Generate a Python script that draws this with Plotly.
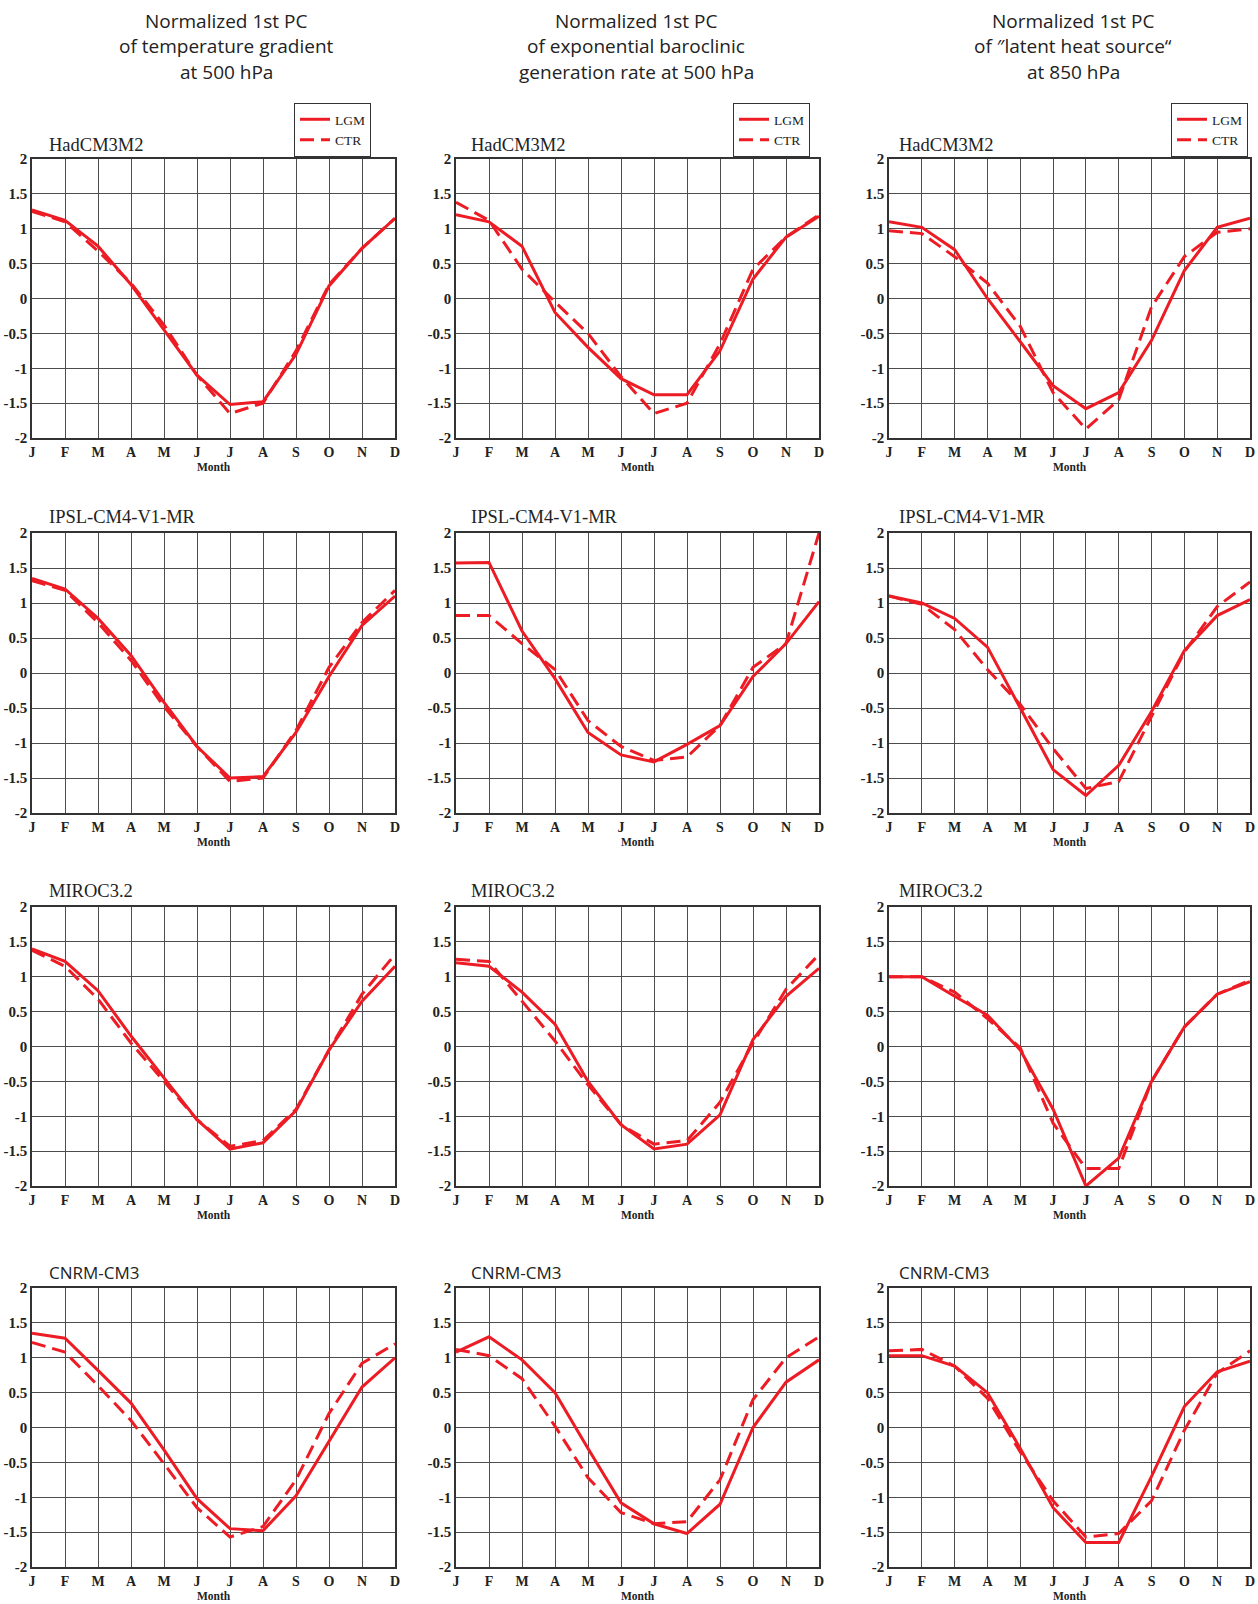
import plotly.graph_objects as go

# ---------------- data ----------------
MONTHS = ["J", "F", "M", "A", "M", "J", "J", "A", "S", "O", "N", "D"]
MONTH_POS = list(range(1, 13))
Y_TICKS = [2, 1.5, 1, 0.5, 0, -0.5, -1, -1.5, -2]
Y_LABELS = ["2", "1.5", "1", "0.5", "0", "-0.5", "-1", "-1.5", "-2"]
X_TITLE = "Month"

COLUMN_TITLES = [
    ["Normalized 1st PC", "of temperature gradient", "at 500 hPa"],
    ["Normalized 1st PC", "of exponential baroclinic", "generation rate at 500 hPa"],
    ["Normalized 1st PC", "of \u2033latent heat source\u201c", "at 850 hPa"],
]
MODELS = ["HadCM3M2", "IPSL-CM4-V1-MR", "MIROC3.2", "CNRM-CM3"]
SERIES_NAMES = ["LGM", "CTR"]

# temperature gradient at 500 hPa
TG_HAD_LGM = [1.27, 1.12, 0.75, 0.20, -0.45, -1.10, -1.52, -1.48, -0.80, 0.18, 0.72, 1.15]
TG_HAD_CTR = [1.25, 1.10, 0.68, 0.22, -0.38, -1.10, -1.65, -1.50, -0.75, 0.20, 0.72, 1.15]
TG_IPSL_LGM = [1.35, 1.20, 0.78, 0.25, -0.42, -1.05, -1.50, -1.48, -0.85, -0.05, 0.68, 1.10]
TG_IPSL_CTR = [1.32, 1.18, 0.72, 0.18, -0.48, -1.05, -1.55, -1.50, -0.82, 0.08, 0.72, 1.18]
TG_MIROC_LGM = [1.40, 1.22, 0.80, 0.15, -0.45, -1.05, -1.47, -1.38, -0.92, -0.05, 0.65, 1.15]
TG_MIROC_CTR = [1.38, 1.15, 0.68, 0.05, -0.50, -1.05, -1.43, -1.35, -0.90, -0.05, 0.75, 1.32]
TG_CNRM_LGM = [1.35, 1.28, 0.82, 0.35, -0.32, -1.02, -1.45, -1.48, -0.98, -0.20, 0.58, 1.00]
TG_CNRM_CTR = [1.22, 1.08, 0.60, 0.10, -0.52, -1.15, -1.57, -1.42, -0.75, 0.20, 0.92, 1.20]

# exponential baroclinic generation rate at 500 hPa
BG_HAD_LGM = [1.20, 1.10, 0.75, -0.20, -0.70, -1.15, -1.38, -1.38, -0.75, 0.28, 0.88, 1.18]
BG_HAD_CTR = [1.38, 1.12, 0.42, -0.05, -0.50, -1.12, -1.65, -1.50, -0.65, 0.42, 0.88, 1.20]
BG_IPSL_LGM = [1.57, 1.58, 0.60, -0.08, -0.85, -1.17, -1.27, -1.02, -0.75, -0.05, 0.42, 1.02]
BG_IPSL_CTR = [0.82, 0.82, 0.42, 0.05, -0.68, -1.05, -1.25, -1.20, -0.75, 0.08, 0.42, 2.00]
BG_MIROC_LGM = [1.20, 1.15, 0.78, 0.32, -0.50, -1.12, -1.47, -1.40, -0.98, 0.10, 0.72, 1.12]
BG_MIROC_CTR = [1.25, 1.22, 0.65, 0.08, -0.55, -1.12, -1.40, -1.35, -0.80, 0.05, 0.82, 1.32]
BG_CNRM_LGM = [1.08, 1.30, 0.97, 0.50, -0.30, -1.08, -1.38, -1.52, -1.10, 0.00, 0.65, 0.97]
BG_CNRM_CTR = [1.12, 1.03, 0.70, 0.02, -0.72, -1.22, -1.38, -1.35, -0.75, 0.40, 1.00, 1.30]

# "latent heat source" at 850 hPa
LH_HAD_LGM = [1.10, 1.02, 0.70, 0.00, -0.62, -1.25, -1.58, -1.35, -0.60, 0.40, 1.02, 1.15]
LH_HAD_CTR = [0.97, 0.93, 0.60, 0.22, -0.40, -1.35, -1.87, -1.45, -0.12, 0.60, 0.95, 1.00]
LH_IPSL_LGM = [1.10, 1.00, 0.78, 0.37, -0.50, -1.38, -1.75, -1.32, -0.55, 0.32, 0.82, 1.05]
LH_IPSL_CTR = [1.10, 0.98, 0.62, 0.05, -0.45, -1.08, -1.65, -1.55, -0.62, 0.30, 0.95, 1.30]
LH_MIROC_LGM = [1.00, 1.00, 0.72, 0.45, -0.05, -0.90, -2.00, -1.60, -0.50, 0.28, 0.75, 0.93]
LH_MIROC_CTR = [1.00, 1.00, 0.78, 0.40, -0.02, -1.10, -1.75, -1.75, -0.50, 0.28, 0.75, 0.95]
LH_CNRM_LGM = [1.03, 1.03, 0.88, 0.50, -0.30, -1.15, -1.65, -1.65, -0.70, 0.30, 0.80, 0.95]
LH_CNRM_CTR = [1.10, 1.12, 0.88, 0.42, -0.35, -1.05, -1.57, -1.52, -1.05, -0.04, 0.78, 1.10]

PANELS = [  # [row][col] -> (LGM, CTR)
    [(TG_HAD_LGM, TG_HAD_CTR), (BG_HAD_LGM, BG_HAD_CTR), (LH_HAD_LGM, LH_HAD_CTR)],
    [(TG_IPSL_LGM, TG_IPSL_CTR), (BG_IPSL_LGM, BG_IPSL_CTR), (LH_IPSL_LGM, LH_IPSL_CTR)],
    [(TG_MIROC_LGM, TG_MIROC_CTR), (BG_MIROC_LGM, BG_MIROC_CTR), (LH_MIROC_LGM, LH_MIROC_CTR)],
    [(TG_CNRM_LGM, TG_CNRM_CTR), (BG_CNRM_LGM, BG_CNRM_CTR), (LH_CNRM_LGM, LH_CNRM_CTR)],
]

# ---------------- layout geometry (pixels) ----------------
W, H = 1258, 1604
COL_X = [(32, 395), (456, 819), (889, 1250)]
ROW_Y = [(159, 438), (533, 813), (907, 1186), (1288, 1567)]
LABEL_X = [47, 469, 897]
LABEL_Y = [145, 517, 891, 1272]
TITLE_CX = [226, 636, 1073]
TITLE_LINE_Y = [21, 46, 72]
LEGEND_RIGHT = [371, 810, 1248]
LEGEND_TOP = 103
MONTH_SHIFT = -29

RED = "#ed1c24"
GRID = "#4d4d4d"
SERIF = "Liberation Serif, Times New Roman, serif"
SANS = "Open Sans, sans-serif"
LEGENDS = ["legend", "legend2", "legend3"]

fig = go.Figure()
layout = {}
annotations = []

for r in range(4):
    for c in range(3):
        k = r * 3 + c + 1
        xa = "x" if k == 1 else f"x{k}"
        ya = "y" if k == 1 else f"y{k}"
        lgm, ctr = PANELS[r][c]
        for name, vals, dash in ((SERIES_NAMES[0], lgm, "solid"), (SERIES_NAMES[1], ctr, "14px,7px")):
            fig.add_trace(go.Scatter(
                x=MONTH_POS, y=vals, mode="lines", name=name,
                line=dict(color=RED, width=3, dash=dash),
                xaxis=xa, yaxis=ya,
                showlegend=(r == 0), legend=LEGENDS[c],
            ))
        x0, x1 = COL_X[c]
        y0, y1 = ROW_Y[r]
        layout["xaxis" if k == 1 else f"xaxis{k}"] = dict(
            domain=[x0 / W, x1 / W], anchor=ya, range=[1, 12],
            tickmode="array", tickvals=MONTH_POS, ticktext=MONTHS,
            showgrid=True, gridcolor=GRID, gridwidth=1.2, zeroline=False,
            showline=True, mirror=True, linecolor="#333", linewidth=1.5,
            ticks="", tickfont=dict(family=SERIF, size=14, color="#222", weight="bold"),
            automargin=False, fixedrange=True,
        )
        layout["yaxis" if k == 1 else f"yaxis{k}"] = dict(
            domain=[1 - y1 / H, 1 - y0 / H], anchor=xa, range=[-2, 2],
            tickmode="array", tickvals=Y_TICKS, ticktext=Y_LABELS,
            showgrid=True, gridcolor=GRID, gridwidth=1.2, zeroline=False,
            showline=True, mirror=True, linecolor="#333", linewidth=1.5,
            ticks="", tickfont=dict(family=SERIF, size=15, color="#222", weight="bold"),
            automargin=False, fixedrange=True,
        )
        annotations.append(dict(
            text=MODELS[r], x=LABEL_X[c] / W, y=1 - LABEL_Y[r] / H,
            xref="paper", yref="paper", xanchor="left", yanchor="middle", showarrow=False,
            font=dict(family=SANS if r == 3 else SERIF, size=17 if r == 3 else 18.5, color="#222"),
        ))
        annotations.append(dict(
            text=X_TITLE, x=0.5, y=0, xref=f"{xa} domain", yref=f"{ya} domain",
            xanchor="center", yanchor="middle", yshift=MONTH_SHIFT, showarrow=False,
            font=dict(family=SERIF, size=11.5, color="#222", weight="bold"),
        ))

for c in range(3):
    for line, ly in zip(COLUMN_TITLES[c], TITLE_LINE_Y):
        annotations.append(dict(
            text=line, x=TITLE_CX[c] / W, y=1 - ly / H, xref="paper", yref="paper",
            xanchor="center", yanchor="middle", showarrow=False,
            font=dict(family=SANS, size=19, color="#222"),
        ))
    layout[LEGENDS[c]] = dict(
        x=LEGEND_RIGHT[c] / W, y=1 - LEGEND_TOP / H, xanchor="right", yanchor="top",
        xref="paper", yref="paper", bgcolor="white", bordercolor="#333", borderwidth=1,
        font=dict(family=SERIF, size=13.5, color="#222"), itemwidth=30, tracegroupgap=0,
    )

fig.update_layout(
    width=W, height=H, margin=dict(l=0, r=0, t=0, b=0),
    paper_bgcolor="white", plot_bgcolor="white",
    annotations=annotations, **layout,
)
fig.write_html(
    "out.html",
    config={"displayModeBar": False},
    post_script="document.body.style.margin='0px';document.body.style.padding='0px';",
)
